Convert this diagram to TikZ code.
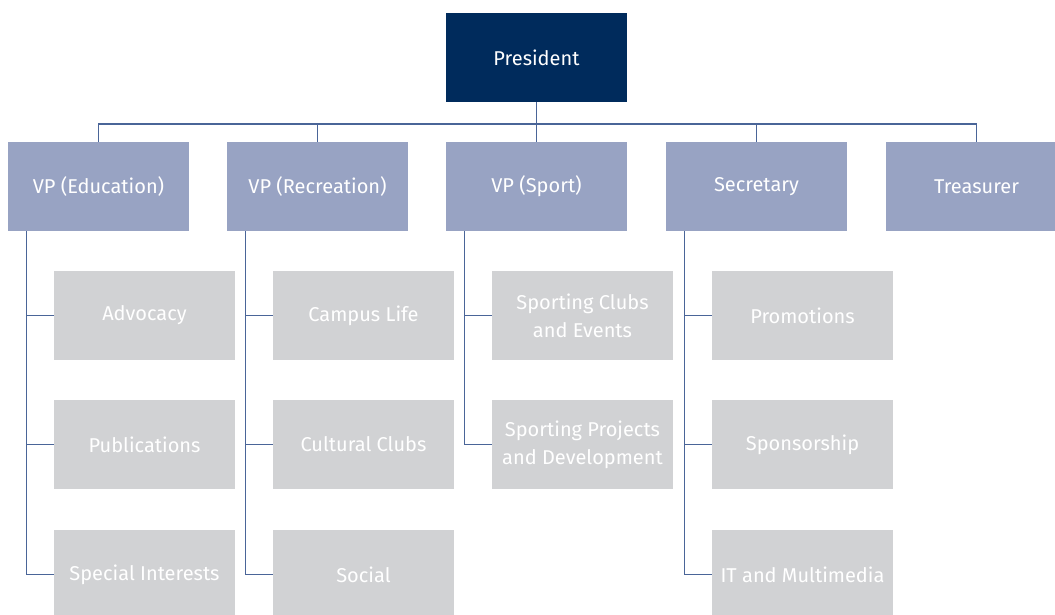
\documentclass[tikz,border=0pt]{standalone}
\usepackage{fontspec}
\setmainfont{Fira Sans}
\usepackage{tikz}
\usetikzlibrary{positioning}
\definecolor{navy}{HTML}{002B5C}
\definecolor{vpblue}{HTML}{98A3C3}
\definecolor{subgrey}{HTML}{D1D2D4}
\definecolor{linkblue}{HTML}{4A6598}
\tikzset{
  box/.style={rectangle, minimum width=135.75pt, minimum height=66.75pt, inner sep=2pt, outer sep=0pt,
              text=white, align=center, font=\fontsize{15}{21}\selectfont},
  top/.style={box, fill=navy},
  vp/.style={box, fill=vpblue},
  sub/.style={box, fill=subgrey},
  link/.style={draw=linkblue, line width=1.4pt},
}

\begin{document}
\begin{tikzpicture}[x=0.75pt, y=-0.75pt, node distance=30pt and 28.5pt]
  \clip (0,0) rectangle (1055,614);
  \node[top] (pres) at (536.5,57.5) {President};
  \node[vp] (sport) [below=of pres] {VP (Sport)};
  \node[vp] (rec) [left=of sport] {VP (Recreation)};
  \node[vp] (edu) [left=of rec] {VP (Education)};
  \node[vp] (sec) [right=29.25pt of sport] {Secretary};
  \node[vp] (tre) [right=29.25pt of sec] {Treasurer};

  % education
  \node[sub] (adv) [below=of edu, xshift=34.5pt] {Advocacy};
  \node[sub] (pub) [below=of adv] {Publications};
  \node[sub] (spi) [below=30.75pt of pub] {Special Interests};
  % recreation
  \node[sub] (cam) [below=of rec, xshift=34.5pt] {Campus Life};
  \node[sub] (cul) [below=of cam] {Cultural Clubs};
  \node[sub] (soc) [below=30.75pt of cul] {Social};
  % sport
  \node[sub] (sce) [below=of sport, xshift=34.5pt] {Sporting Clubs\\and Events};
  \node[sub] (spd) [below=of sce] {Sporting Projects\\and Development};
  % secretary
  \node[sub] (pro) [below=of sec, xshift=34.5pt] {Promotions};
  \node[sub] (spo) [below=of pro] {Sponsorship};
  \node[sub] (itm) [below=30.75pt of spo] {IT and Multimedia};

  \draw[link] (pres.south) -- (sport.north);
  \draw[link] (edu.north) -- ++(0,-18) -| (tre.north);
  \foreach \v in {rec,sec}
    \draw[link] (\v.north) -- ++(0,-18);

  \draw[link] ([xshift=13.9pt]edu.south west) |- (spi.west);
  \draw[link] ([xshift=13.9pt]edu.south west) |- (adv.west);
  \draw[link] ([xshift=13.9pt]edu.south west) |- (pub.west);
  \draw[link] ([xshift=13.9pt]rec.south west) |- (soc.west);
  \draw[link] ([xshift=13.9pt]rec.south west) |- (cam.west);
  \draw[link] ([xshift=13.9pt]rec.south west) |- (cul.west);
  \draw[link] ([xshift=13.9pt]sport.south west) |- (spd.west);
  \draw[link] ([xshift=13.9pt]sport.south west) |- (sce.west);
  \draw[link] ([xshift=13.9pt]sec.south west) |- (itm.west);
  \draw[link] ([xshift=13.9pt]sec.south west) |- (pro.west);
  \draw[link] ([xshift=13.9pt]sec.south west) |- (spo.west);
\end{tikzpicture}
\end{document}
